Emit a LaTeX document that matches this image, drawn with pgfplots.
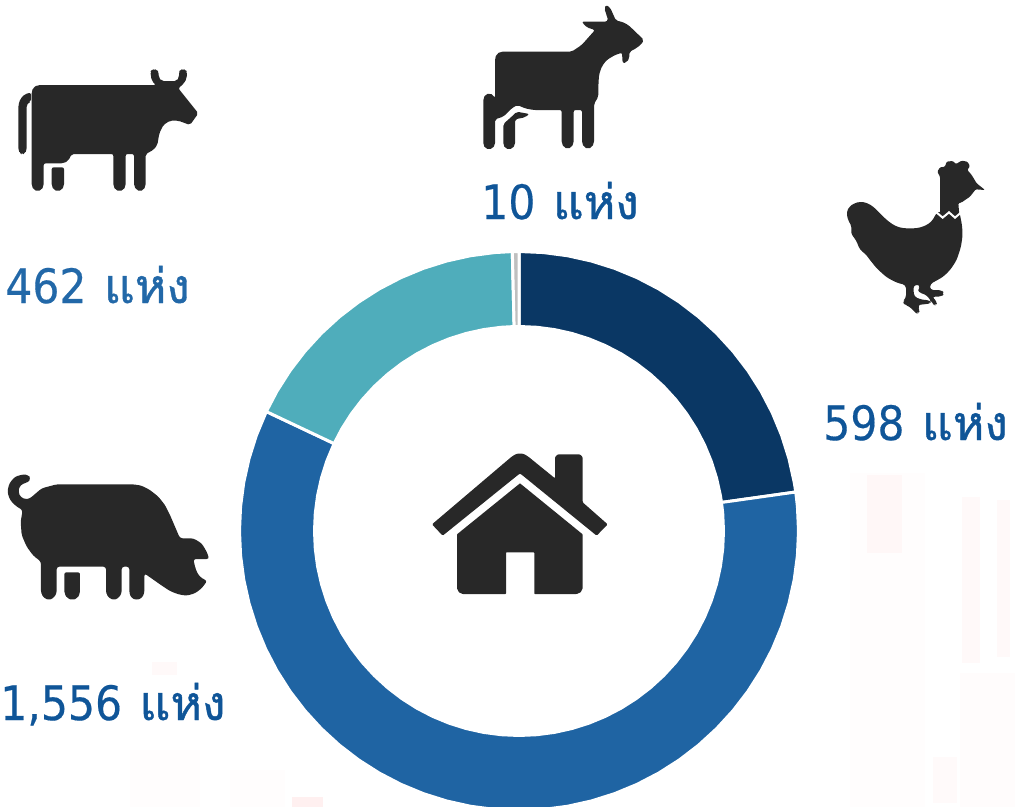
\documentclass[border=0pt]{standalone}
\usepackage{pgfplots}
\pgfplotsset{compat=1.18}
\usepackage{fontspec}
\newfontfamily\thaifont[Script=Thai,FakeBold=0.9]{Loma}
\newfontfamily\numfont[FakeBold=0.35]{DejaVu Sans Condensed}
\newcommand{\lbl}[1]{{\numfont\fontsize{35.5}{36}\selectfont #1}\hspace{13pt}{\thaifont\fontsize{36}{36}\selectfont แห่ง}}
\definecolor{icon}{HTML}{282828}
\definecolor{lab}{HTML}{0F5598}
\definecolor{labb}{HTML}{2268A8}
\definecolor{s1}{HTML}{0A3764}
\definecolor{s2}{HTML}{1F64A3}
\definecolor{s3}{HTML}{4FADBB}
\definecolor{s4}{HTML}{BFBFBF}
\pgfplotsset{
  ic/.style 2 args={x filter/.expression={x/3+#1},y filter/.expression={y/3+#2},fill=icon,draw=none,mark=none,forget plot,rounded corners=1.5pt},
  bgr/.style={draw=none,mark=none,forget plot},
  frame/.style={at={(0,0)},anchor=south west,scale only axis,width=761.25pt,height=605.25pt,hide axis},
}
\begin{document}
\begin{tikzpicture}
\path[use as bounding box] (0,0) rectangle (761.25pt,605.25pt);
\clip (0,0) rectangle (761.25pt,605.25pt);
\begin{axis}[frame,xmin=0,xmax=1015,ymin=0,ymax=807,y dir=reverse]
% faint background
\addplot[bgr,fill=red!0.7] coordinates {(850,473)(925,473)(925,807)(850,807)} --cycle;
\addplot[bgr,fill=red!1] coordinates {(960,673)(1015,673)(1015,807)(960,807)} --cycle;
\addplot[bgr,fill=red!3] coordinates {(867,475)(902,475)(902,553)(867,553)} --cycle;
\addplot[bgr,fill=red!2.5] coordinates {(962,497)(980,497)(980,663)(962,663)} --cycle;
\addplot[bgr,fill=red!2.5] coordinates {(997,500)(1010,500)(1010,657)(997,657)} --cycle;
\addplot[bgr,fill=red!2] coordinates {(933,757)(957,757)(957,803)(933,803)} --cycle;
\addplot[bgr,fill=red!0.7] coordinates {(130,750)(200,750)(200,807)(130,807)} --cycle;
\addplot[bgr,fill=red!0.7] coordinates {(230,770)(285,770)(285,807)(230,807)} --cycle;
\addplot[bgr,fill=red!2.5] coordinates {(152,662)(177,662)(177,675)(152,675)} --cycle;
\addplot[bgr,fill=red!6] coordinates {(292,797)(323,797)(323,807)(292,807)} --cycle;
% cow
\addplot[ic={0}{50}] coordinates {(95,125)(100,112)(115,105)(468,105)(455,92)(451,65)(455,60)(463,57)(471,60)(476,65)(476,82)(485,93)(530,93)(537,82)(537,65)(541,60)(549,57)(557,60)(561,65)(560,85)(552,100)(535,115)(595,190)(570,225)(535,212)(510,212)(490,225)(478,250)(472,285)(460,300)(437,312)(437,408)(430,420)(420,424)(410,420)(402,408)(402,312)(377,312)(377,408)(370,420)(358,424)(347,420)(340,408)(340,312)(215,312)(205,332)(190,340)(131,340)(131,408)(124,420)(113,424)(102,420)(95,408)} --cycle;
\addplot[ic={0}{50}] coordinates {(155,352)(192,352)(192,408)(185,420)(173,424)(162,420)(155,408)} --cycle;
\addplot[ic={0}{50}] coordinates {(55,165)(62,145)(75,132)(93,128)(93,155)(85,158)(80,165)(80,300)(75,310)(67,314)(60,310)(55,300)} --cycle;
% goat
\addplot[ic={470}{0}] coordinates {(75,175)(80,162)(92,155)(305,155)(335,135)(375,90)(350,82)(335,65)(410,65)(415,62)(403,25)(408,15)(420,22)(438,62)(455,65)(475,75)(522,120)(512,135)(490,150)(478,155)(478,175)(470,187)(458,190)(456,158)(435,165)(410,180)(395,200)(387,225)(385,260)(385,290)(372,312)(372,430)(365,442)(354,447)(343,442)(336,430)(336,330)(311,330)(311,430)(304,442)(293,447)(282,442)(275,430)(275,330)(190,330)(165,325)(142,315)(125,325)(100,350)(75,358)(75,435)(68,445)(57,448)(46,445)(40,435)(40,295)(47,283)(58,280)(70,285)(75,295)} --cycle;
\addplot[ic={470}{0}] coordinates {(100,372)(125,350)(140,335)(178,342)(165,352)(135,358)(135,435)(128,445)(117,448)(106,445)(100,435)} --cycle;
% hen
\addplot[ic={830}{150},rounded corners=0.8pt] coordinates {(330,80)(322,65)(330,52)(345,50)(350,35)(368,33)(378,42)(395,32)(412,35)(420,48)(412,60)(425,75)(440,100)(465,120)(437,118)(420,140)(395,157)(385,160)(388,195)(330,200)} --cycle;
\addplot[ic={830}{150},rounded corners=2.5pt] coordinates {(322,185)(388,185)(396,225)(398,255)(393,290)(380,330)(362,358)(340,380)(310,397)(300,402)(300,420)(335,420)(343,430)(335,440)(305,440)(322,455)(318,468)(308,462)(298,445)(285,432)(265,428)(265,415)(272,405)(250,405)(252,440)(278,450)(300,450)(303,460)(290,462)(262,465)(270,480)(265,492)(255,488)(240,470)(225,465)(217,455)(228,445)(228,405)(200,398)(170,382)(140,355)(120,330)(105,310)(90,300)(78,270)(62,250)(66,232)(52,205)(50,185)(58,170)(72,160)(90,155)(110,158)(130,170)(150,190)(170,210)(195,228)(220,235)(260,235)(285,228)(305,215)} --cycle;
\addplot[x filter/.expression={x/3+830},y filter/.expression={y/3+150},white,line width=1.5pt,mark=none,forget plot] coordinates {(318,186)(338,203)(357,187)(375,203)(394,187)};
% pig
\addplot[ic={0}{465},rounded corners=2pt] coordinates {(90,100)(125,70)(170,58)(400,58)(425,62)(450,75)(475,95)(495,120)(510,150)(525,185)(540,220)(580,220)(605,235)(620,260)(628,282)(580,282)(585,305)(592,325)(605,340)(622,347)(605,370)(585,385)(560,392)(535,388)(510,378)(490,365)(433,325)(433,385)(425,400)(410,405)(395,400)(388,385)(388,305)(365,305)(365,385)(355,400)(342,405)(328,400)(318,385)(318,305)(170,305)(170,385)(160,400)(147,405)(133,400)(123,385)(123,290)(100,272)(80,245)(65,210)(62,170)(68,135)(50,125)(30,105)(22,80)(28,55)(45,35)(70,28)(85,30)(92,40)(85,52)(70,55)(58,65)(55,80)(62,97)(78,103)} --cycle;
\addplot[ic={0}{465}] coordinates {(193,322)(240,322)(240,385)(232,400)(217,405)(202,400)(193,385)} --cycle;
% house
\addplot[ic={420}{445},rounded corners=0.8pt] coordinates {(36,238)(275,35)(288,27)(300,25)(312,27)(325,35)(405,100)(405,36)(413,28)(480,28)(488,36)(488,172)(563,238)(530,272)(300,85)(68,272)} --cycle;
\addplot[ic={420}{445},rounded corners=0.4pt] coordinates {(300,115)(488,268)(488,430)(482,442)(470,447)(343,447)(343,322)(258,322)(258,447)(128,447)(117,442)(111,430)(111,268)} --cycle;
% labels
\node[anchor=base west,inner sep=0,text=labb] at (axis cs:5,303) {\lbl{462}};
\node[anchor=base west,inner sep=0,text=lab] at (axis cs:481,219) {\lbl{10}};
\node[anchor=base west,inner sep=0,text=lab] at (axis cs:823,440) {\lbl{598}};
\node[anchor=base west,inner sep=0,text=lab] at (axis cs:0,720) {\lbl{1,556}};
\end{axis}
\begin{axis}[frame,xmin=-519,xmax=496,ymin=-276,ymax=531]
% 598
\addplot[fill=s1,draw=white,line width=2.25pt,data cs=polar,mark=none] coordinates {
(90,279.5)(85,279.5)(80,279.5)(75,279.5)(70,279.5)(65,279.5)(60,279.5)(55,279.5)(50,279.5)(45,279.5)(40,279.5)(35,279.5)(30,279.5)(25,279.5)(20,279.5)(15,279.5)(10,279.5)(8.02,279.5)
(8.02,204.5)(10,204.5)(15,204.5)(20,204.5)(25,204.5)(30,204.5)(35,204.5)(40,204.5)(45,204.5)(50,204.5)(55,204.5)(60,204.5)(65,204.5)(70,204.5)(75,204.5)(80,204.5)(85,204.5)(90,204.5)} --cycle;
% 1556
\addplot[fill=s2,draw=white,line width=2.25pt,data cs=polar,mark=none] coordinates {
(8.02,279.5)(5,279.5)(0,279.5)(-5,279.5)(-10,279.5)(-15,279.5)(-20,279.5)(-25,279.5)(-30,279.5)(-35,279.5)(-40,279.5)(-45,279.5)(-50,279.5)(-55,279.5)(-60,279.5)(-65,279.5)(-70,279.5)(-75,279.5)(-80,279.5)(-85,279.5)(-90,279.5)(-95,279.5)(-100,279.5)(-105,279.5)(-110,279.5)(-115,279.5)(-120,279.5)(-125,279.5)(-130,279.5)(-135,279.5)(-140,279.5)(-145,279.5)(-150,279.5)(-155,279.5)(-160,279.5)(-165,279.5)(-170,279.5)(-175,279.5)(-180,279.5)(-185,279.5)(-190,279.5)(-195,279.5)(-200,279.5)(-205.3,279.5)
(-205.3,204.5)(-200,204.5)(-195,204.5)(-190,204.5)(-185,204.5)(-180,204.5)(-175,204.5)(-170,204.5)(-165,204.5)(-160,204.5)(-155,204.5)(-150,204.5)(-145,204.5)(-140,204.5)(-135,204.5)(-130,204.5)(-125,204.5)(-120,204.5)(-115,204.5)(-110,204.5)(-105,204.5)(-100,204.5)(-95,204.5)(-90,204.5)(-85,204.5)(-80,204.5)(-75,204.5)(-70,204.5)(-65,204.5)(-60,204.5)(-55,204.5)(-50,204.5)(-45,204.5)(-40,204.5)(-35,204.5)(-30,204.5)(-25,204.5)(-20,204.5)(-15,204.5)(-10,204.5)(-5,204.5)(0,204.5)(5,204.5)(8.02,204.5)} --cycle;
% 462
\addplot[fill=s3,draw=white,line width=2.25pt,data cs=polar,mark=none] coordinates {
(154.7,279.5)(150,279.5)(145,279.5)(140,279.5)(135,279.5)(130,279.5)(125,279.5)(120,279.5)(115,279.5)(110,279.5)(105,279.5)(100,279.5)(95,279.5)(91.37,279.5)
(91.37,204.5)(95,204.5)(100,204.5)(105,204.5)(110,204.5)(115,204.5)(120,204.5)(125,204.5)(130,204.5)(135,204.5)(140,204.5)(145,204.5)(150,204.5)(154.7,204.5)} --cycle;
% 10
\addplot[fill=s4,draw=white,line width=2.25pt,data cs=polar,mark=none] coordinates {
(91.37,279.5)(90,279.5)(90,204.5)(91.37,204.5)} --cycle;
\end{axis}
\end{tikzpicture}
\end{document}
